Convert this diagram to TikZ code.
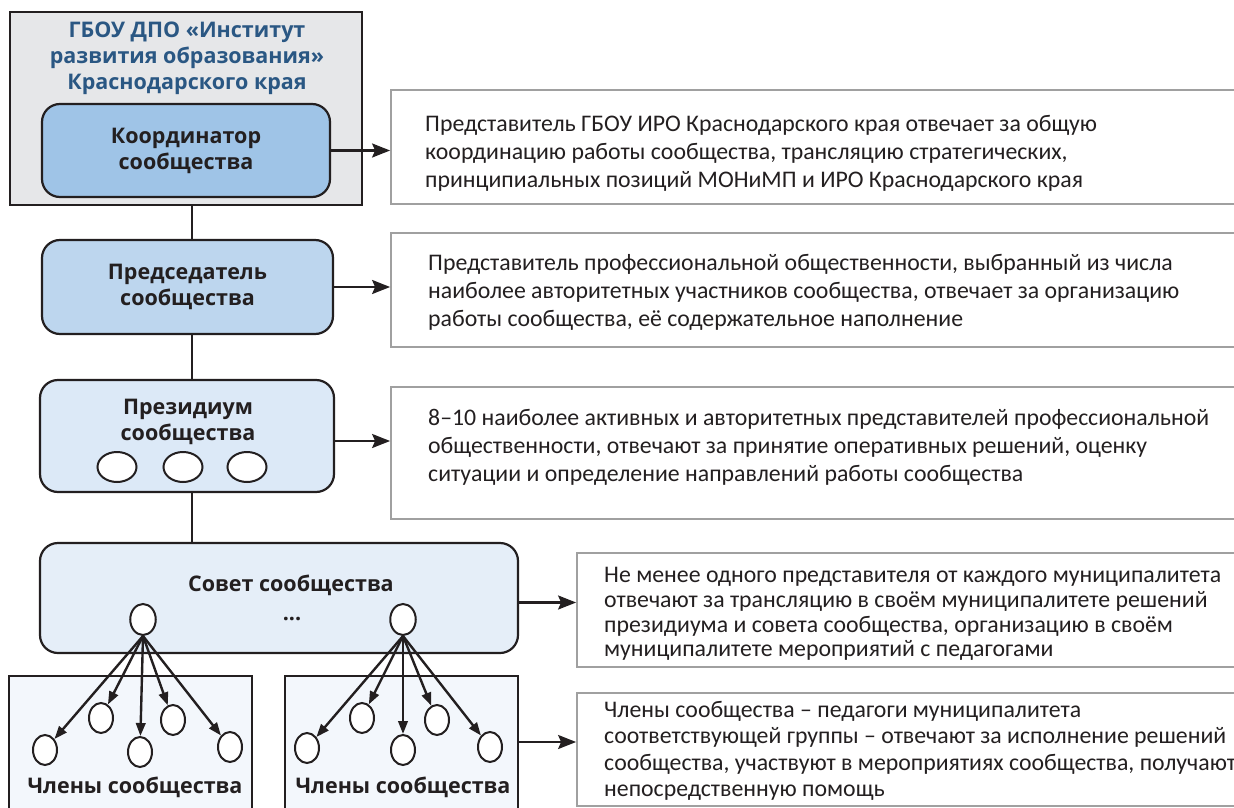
\documentclass[tikz,border=0pt]{standalone}
\usepackage{fontspec}
\setmainfont{Carlito}
\newfontfamily\hfont{Open Sans}
\usetikzlibrary{arrows.meta,shapes.geometric}
\definecolor{ink}{HTML}{231F20}
\definecolor{titleblue}{HTML}{2A5783}
\definecolor{outerfill}{HTML}{E6E7E9}
\definecolor{coordfill}{HTML}{9FC4E7}
\definecolor{predfill}{HTML}{BDD6EE}
\definecolor{prezfill}{HTML}{DCE9F7}
\definecolor{sovetfill}{HTML}{E5EEF8}
\definecolor{memfill}{HTML}{F3F7FC}
\definecolor{descline}{HTML}{A0A0A0}
\begin{document}
\begin{tikzpicture}[x=1pt,y=-1pt,
  hfnt/.style={font=\hfont\bfseries\fontsize{21.5}{26}\selectfont, text=ink, align=center, inner sep=0pt},
  rbox/.style={draw=ink, line width=2.2pt, rounded corners=18pt, inner sep=0pt},
  sqbox/.style={draw=ink, line width=2pt, inner sep=0pt},
  descbox/.style={draw=descline, line width=1.8pt, fill=white, inner sep=0pt},
  desctext/.style={font=\fontsize{23.8}{28}\selectfont, text=ink, align=left, inner sep=0pt, anchor=west},
  oval/.style={ellipse, draw=ink, line width=2pt, fill=white, inner sep=0pt},
  link/.style={draw=ink, line width=2.2pt},
  bigarrow/.style={draw=ink, line width=2.2pt, -{Stealth[length=18pt,width=14pt,inset=3pt]}},
  smallarrow/.style={draw=ink, line width=2.4pt, -{Triangle[length=13pt,width=9.5pt]}}
]
\useasboundingbox (0,0) rectangle (1234,808);

% left column
\node[sqbox, line width=2.2pt, fill=outerfill, minimum width=352pt, minimum height=193pt] (outer) at (186,108.5) {};
\node[hfnt, text=titleblue] (outert) at (187,58) {ГБОУ ДПО «Институт\\развития образования»\\Краснодарского края};
\node[rbox, fill=coordfill, minimum width=288pt, minimum height=93pt, hfnt] (coord) at (186,150.5) {Координатор\\сообщества};

\node[rbox, fill=predfill, minimum width=291pt, minimum height=94pt, hfnt] (pred) at (187.5,287) {Председатель\\сообщества};

\node[rbox, fill=prezfill, minimum width=294pt, minimum height=112pt] (prez) at (187,436) {};
\node[hfnt] (prezt) at (188,422) {Президиум\\сообщества};
\node[oval, minimum width=39pt, minimum height=30pt] (e1) at (117,467) {};
\node[oval, minimum width=39pt, minimum height=30pt] (e2) at (183,467) {};
\node[oval, minimum width=39pt, minimum height=30pt] (e3) at (247,467) {};

\node[rbox, fill=sovetfill, minimum width=478pt, minimum height=110pt] (sovet) at (279,598) {};
\node[hfnt] (sovett) at (291,585) {Совет сообщества};
\node[hfnt] (dots) at (292,619) {...};
\node[oval, minimum width=25.5pt, minimum height=31pt] (s1) at (143,619.5) {};
\node[oval, minimum width=25.5pt, minimum height=31pt] (s2) at (403,619.5) {};

\node[sqbox, fill=memfill, minimum width=243pt, minimum height=150pt] (mem1) at (130.5,751) {};
\node[sqbox, fill=memfill, minimum width=233pt, minimum height=150pt] (mem2) at (401.5,751) {};
\node[hfnt] (mem1t) at (135,787) {Члены сообщества};
\node[hfnt] (mem2t) at (403,787) {Члены сообщества};

\foreach \n/\x/\y in {m1a/45/750, m1b/101/718, m1c/140/752, m1d/173/720, m1e/230/747,
                      m2a/307/748, m2b/362/718, m2c/403/750, m2d/437/720, m2e/490/747}
  \node[oval, minimum width=24pt, minimum height=30pt] (\n) at (\x,\y) {};

\foreach \m in {m1a,m1b,m1c,m1d,m1e} \draw[smallarrow] (s1.south) -- (\m);
\foreach \m in {m2a,m2b,m2c,m2d,m2e} \draw[smallarrow] (s2.south) -- (\m);

% vertical links
\draw[link] (outer.south -| 192,0) -- (pred.north -| 192,0);
\draw[link] (pred.south -| 192,0) -- (prez.north -| 192,0);
\draw[link] (prez.south -| 192,0) -- (sovet.north -| 192,0);

% description boxes
\node[descbox, minimum width=860pt, minimum height=114pt] (d1) at (821,147) {};
\node[descbox, minimum width=860pt, minimum height=114pt] (d2) at (821,290) {};
\node[descbox, minimum width=860pt, minimum height=132pt] (d3) at (821,453) {};
\node[descbox, minimum width=674pt, minimum height=114pt] (d4) at (914,610) {};
\node[descbox, minimum width=674pt, minimum height=113pt] (d5) at (914,749.5) {};

\node[desctext] (d1t) at (425,153) {Представитель ГБОУ ИРО Краснодарского края отвечает за общую\\координацию работы сообщества, трансляцию стратегических,\\принципиальных позиций МОНиМП и ИРО Краснодарского края};
\node[desctext] (d2t) at (428,292) {Представитель профессиональной общественности, выбранный из числа\\наиболее авторитетных участников сообщества, отвечает за организацию\\работы сообщества, её содержательное наполнение};
\node[desctext] (d3t) at (428,447) {8–10 наиболее активных и авторитетных представителей профессиональной\\общественности, отвечают за принятие оперативных решений, оценку\\ситуации и определение направлений работы сообщества};
\node[desctext, font=\fontsize{23.8}{24.7}\selectfont] (d4t) at (604,614) {Не менее одного представителя от каждого муниципалитета\\отвечают за трансляцию в своём муниципалитете решений\\президиума и совета сообщества, организацию в своём\\муниципалитете мероприятий с педагогами};
\node[desctext, font=\fontsize{23.8}{26.5}\selectfont] (d5t) at (604,751) {Члены сообщества – педагоги муниципалитета\\соответствующей группы – отвечают за исполнение решений\\сообщества, участвуют в мероприятиях сообщества, получают\\непосредственную помощь};

% arrows to descriptions
\draw[bigarrow] (coord.east) -- (coord.east -| d1.west);
\draw[bigarrow] (pred.east) -- (pred.east -| d2.west);
\draw[bigarrow] ([yshift=-5pt]prez.east) -- ([yshift=-5pt]prez.east -| d3.west);
\draw[bigarrow] ([yshift=-4.5pt]sovet.east) -- ([yshift=-4.5pt]sovet.east -| d4.west);
\draw[bigarrow] ([yshift=9pt]mem2.east) -- ([yshift=9pt]mem2.east -| d5.west);
\end{tikzpicture}
\end{document}
